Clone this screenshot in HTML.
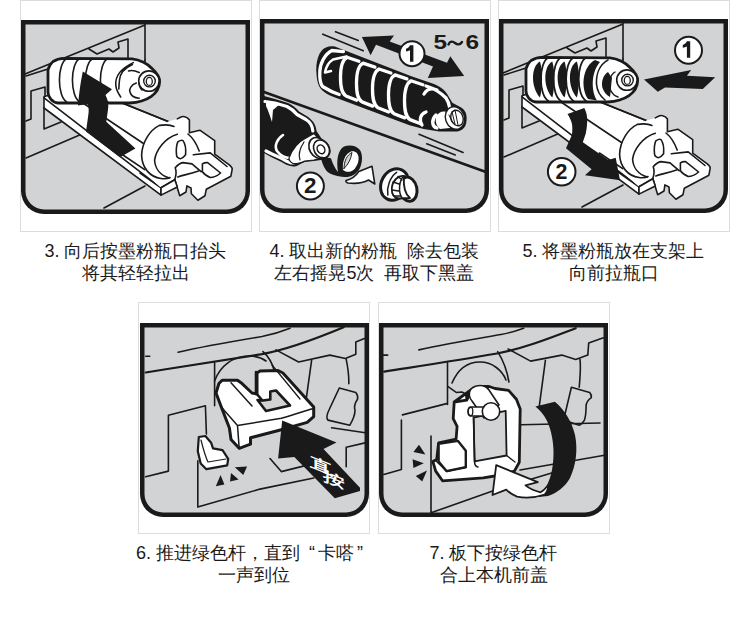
<!DOCTYPE html>
<html><head><meta charset="utf-8">
<style>
html,body{margin:0;padding:0;background:#fff;}
body{width:750px;height:617px;position:relative;overflow:hidden;font-family:"Liberation Sans",sans-serif;}
svg{position:absolute;left:0;top:0;}
.t{position:absolute;color:#1a1a1a;font-size:18px;line-height:22px;white-space:nowrap;text-align:center;width:231px;}
</style></head><body>
<svg width="750" height="617" viewBox="0 0 750 617">
<defs>
<path id="fo" d="M0,0 H229 V171 A23,23 0 0 1 206,194 H23 A23,23 0 0 1 0,171 Z"/>
<g id="base13">
<path d="M25,74 L145,25 M145,24 V60 M89,49 L97,54 L109,49 L113,52 L119,48 L118,42 L128,39 V58"/>
<path d="M26,76 L48,69 M26,121 L31,119 V91 L45,87 V97"/>
<path d="M44,107 V129 L61,122 M26,158 L82,134 M104,208 L145,186"/>
<path d="M145,60 V64"/>
<!-- tray+shaft white silhouette -->
<path fill="#fff" d="M44,96.7 L55,93 L105,99 L111.7,98.7 L176.8,125 L174.8,179.7 L161,187.8 L161,195.1 L44,108 Z"/>
<path d="M44,97.8 L161,187.8 M111.7,98.7 L176.8,125 M80,101 L145.7,145 M121.4,154 L144.7,169.7 M140,173.2 L161,187.8 L174.8,179.7"/>
<!-- holder -->
<path fill="#fff" stroke="none" d="M168,121.5 L177.3,118.9 L180.5,117.3 C182,116 187,116 189.4,120 L189.4,125 L189.4,132.8 L199.8,130.2 L214.7,140.6 L214.7,154.2 L229.6,165.2 C231.5,167 232.5,168 232.2,169.1 L230.9,176.2 L206.3,189.2 L205,195.7 L197.9,200.2 L191.4,193.7 L191,188 L186.9,185.9 L186,192 L179.7,195.7 L175.2,180.7 L174.8,179.7 L161,187.8 L150,178 Z"/>
<path d="M177.3,118.9 L180.5,117.3 C182,116 187,116 189.4,120 L189.4,125 L189.4,132.8 L199.8,130.2 L214.7,140.6 L214.7,154.2 L229.6,165.2 C231.5,167 232.5,168 232.2,169.1 L230.9,176.2 L206.3,189.2 L205,195.7 L197.9,200.2 L191.4,193.7 L191,188 L186.9,185.9 L186,192 L179.7,195.7 L175.2,180.7 L174.8,179.7 L161,187.8"/>
<path fill="#fff" stroke-width="1.6" d="M161,187.8 L174.8,179.7 L177.3,187 L161,195.1 Z"/>
<path fill="#fff" stroke="none" d="M159.4,125.4 C150,130 142,142 141.6,155.4 C142,168 150,177 161,178.5 C172,180 178,172 180,160 L185,140 C180,128 170,123 159.4,125.4 Z"/>
<path d="M174,126.5 C170,124.5 165,124.5 159.4,125.4 C150,130 142,142 141.6,155.4 C142,168 150,177 161,178.5 C165,179 168,178.5 170,177.5"/>
<path d="M177.3,134.3 C165,138 156,150 154.6,160.2 C155,168 160,175 169.2,178"/>
<path d="M177.8,141.9 C180,140.5 182,140 183,140.6 C185.5,144 186,150 185.6,154.8 C184,157 182,158.5 180.4,158.7 C177.5,158 176.5,156.5 176.5,154.8 C176,150 176.5,145 177.8,141.9 Z M188,134 C193,138 197,145 199.2,151 M193.3,154.8 L210.2,152.9 L227,166.5 M202.4,163.9 C204,162.8 206,162.5 207.6,162.6 L220.6,173 C217,176 213,177.5 210.2,177.5 C207,176 204,174 202.4,171.7 Z M175.2,167.8 C178,164.5 180.5,163 183,162.6 L192,163.9 L201.1,171.7 M177.8,176.9 C183,175 190,174 198.5,171 M174.8,179.7 C176,176 177,172 175.2,167.8"/>
<path fill="#fff" stroke-width="2.8" d="M48,70 C50,62 55,58.5 64,58.3 L132,58.8 C140,59.5 148,64 152,68.5 C157,73 160,78 159.6,82 C159.5,88 156,93 151,96.7 C147,99.5 140,102.5 129.5,103 L58,103 C52,102.5 48,97 48,92 Z"/>
</g>
<g id="cap13">
<circle cx="148.9" cy="81.1" r="10.2" fill="#fff" stroke-width="1.6"/>
<circle cx="149.5" cy="81.1" r="5.8" fill="#fff" stroke-width="1.4"/>
<ellipse cx="149.3" cy="81.4" rx="3" ry="4" stroke-width="1.3"/>
</g>
<path id="fi" d="M4.5,4.5 H224.5 V171 A18.5,18.5 0 0 1 206,189.5 H23 A18.5,18.5 0 0 1 4.5,171 Z"/>
</defs>
<g fill="none" stroke="#dcdcdc" stroke-width="1">
<rect x="20.5" y="0.5" width="231" height="231"/>
<rect x="259.5" y="0.5" width="231" height="231"/>
<rect x="498.5" y="0.5" width="231" height="231"/>
<rect x="138.5" y="302.5" width="231" height="231"/>
<rect x="378.5" y="302.5" width="231" height="231"/>
</g>
<!-- panel 1 -->
<g transform="translate(21,20)"><use href="#fo" fill="#1a1a1a"/><use href="#fi" fill="#d2d3d5"/></g>
<g transform="translate(260,19)"><use href="#fo" fill="#1a1a1a"/><use href="#fi" fill="#d2d3d5"/></g>
<g transform="translate(499,19)"><use href="#fo" fill="#1a1a1a"/><use href="#fi" fill="#d2d3d5"/></g>
<g transform="translate(140,323)"><use href="#fo" fill="#1a1a1a"/><use href="#fi" fill="#d2d3d5"/></g>
<g transform="translate(379,323)"><use href="#fo" fill="#1a1a1a"/><use href="#fi" fill="#d2d3d5"/></g>
<!-- P1 art -->
<g id="p1" fill="none" stroke="#1a1a1a" stroke-width="1.6" stroke-linejoin="round" stroke-linecap="round">
<use href="#base13"/>
<path d="M66.7,58.5 C57,64 57,96 66.7,102 M79.7,58.5 C70,64 70,96 79.7,102 M92.8,58.5 C83,64 83,96 92.8,102 M107.7,58.5 C98,64 98,96 107.7,102 M133.3,62.6 C122,68 115,76 115.8,85 C116,90 118,93 120.7,97 M132.4,64.6 C125,68 120,74 119.5,80 C119,84 119,87 118.8,89 M136.3,83 C131,85 129,89 130,92 C131,96 135,98 139.2,98.2 M128.5,70.9 C132,70 136,71 139.2,72.4"/>
<path d="M142,74 C138,78 138,86 142,90"/>
<use href="#cap13"/>
<!-- arrow -->
<path fill="#1a1a1a" stroke="none" d="M82.8,71.5 L112,89.3 L105.5,95 C108,100 109,105 107.9,110.3 L106.3,121.7 L135.4,148.4 L120,157.3 L86,131.4 L88.5,113.6 C89,110 88.5,106 87.7,103.9 L78,105.5 C79,95 80,85 82.8,71.5 Z"/>
</g>
<!-- P3 art -->
<g id="p3" fill="none" stroke="#1a1a1a" stroke-width="1.6" stroke-linejoin="round" stroke-linecap="round">
<g transform="translate(478,-1)">
<use href="#base13"/>
<path fill="#1a1a1a" stroke="none" d="M62.0,62.5 C53.0,67 52.5,88 62.0,98.5 C64.5,90 65.0,72 62.0,62.5 Z M74.3,62.5 C65.3,67 64.8,88 74.3,98.5 C76.8,90 77.3,72 74.3,62.5 Z M86.6,62.5 C77.6,67 77.1,88 86.6,98.5 C89.1,90 89.6,72 86.6,62.5 Z M98.9,62.5 C89.9,67 89.4,88 98.9,98.5 C101.4,90 101.9,72 98.9,62.5 Z "/>
<path fill="#1a1a1a" stroke="none" d="M117,61 C105,67 102,88 110,100 L119,101.5 C113,92 113,73 122,63 Z"/>
<path d="M70.4,58.5 C60.4,64 60.4,96 70.4,102 M83.0,58.5 C73.0,64 73.0,96 83.0,102 M95.6,58.5 C85.6,64 85.6,96 95.6,102 M108.2,58.5 C98.2,64 98.2,96 108.2,102 " stroke-width="1.8"/>
<path d="M130,61 C121,66 118,76 118.5,85 C119,92 122,97 127,101" stroke-width="1.6"/>
<path fill="#1a1a1a" stroke="none" d="M130,73 C125,76 123,83 124.5,89 C126,93 128,96 132,98 C133,92 133,85 134,79 Z"/>
<path d="M137,73 C132,76 130,84 132,90 C134,95 137,97 140,98" stroke-width="1.4"/>
<use href="#cap13"/>
</g>
<!-- arrow 1 -->
<path fill="#1a1a1a" stroke="none" d="M644,79.4 L691.2,70 L686.9,75.8 L715.2,77.2 L702.8,88.9 L665,87.4 L657.8,91.8 Z"/>
<circle cx="688.5" cy="50.25" r="13.5" fill="#fff" stroke-width="2"/>
<path fill="#1a1a1a" stroke="none" d="M686.9,41.3 H690.2 V57.7 H686.9 V46.4 C685.7,47.1 684.3,47.5 682.8,47.7 V44.9 C684.6,44.3 686.1,43 686.9,41.3 Z"/>
<!-- arrow 2 -->
<path fill="#1a1a1a" stroke="none" d="M567.5,113.9 L584.3,108 C586.5,112 587.5,117 587.2,121.9 C587,126 586.5,130 585.8,133.6 L582.8,142.3 L608.4,159.9 L615.7,157.7 L620,180.3 L585,175.2 L591.6,169.3 L566,148.2 L571.9,135 C572.5,131 572.5,127 571.9,123.4 C571,120 569.5,117 567.5,113.9 Z"/>
<circle cx="561.7" cy="171.8" r="13.8" fill="#fff" stroke-width="2"/>
<text x="561.4" y="178.8" font-family="Liberation Sans" font-weight="bold" font-size="21.4" fill="#1a1a1a" stroke="none" text-anchor="middle">2</text>
</g>
<!-- P2 art -->
<g id="p2" fill="none" stroke="#1a1a1a" stroke-width="1.6" stroke-linejoin="round" stroke-linecap="round">
<path d="M322.8,34.2 L363.3,50.7 M335.5,31.7 L358.3,40.5 M419,134.3 L463.1,152.5 M426.7,143.8 L455.3,155"/>
<path stroke-width="2.6" d="M264,92 L486,172"/>
<!-- double arrow -->
<path fill="#1a1a1a" stroke="none" d="M361.9,37.1 L394,35.4 L389.7,41.5 L447,62.7 L450.3,56.2 L464.2,76.1 L427.8,77.9 L433,66.5 L376,44.8 L370.6,55.3 Z"/>
<circle cx="412" cy="53.7" r="12.5" fill="#fff" stroke-width="2"/>
<!-- bottle 1 -->
<path fill="#1a1a1a" stroke="none" d="M316.6,75 C315,62 319,50 326,47.5 C329,46 332,45.8 334.8,46.6 L410.7,76 L428.9,82.3 C437,85 443,88 447,93.7 L452.3,102.8 L457.4,105.5 C463,108 466,111 466.5,116 C467,121 466,126 463.9,128 C461,131 457,132 453.6,131.5 L439.3,131.5 L423.7,129 L409.5,125.2 L339.2,99 C330,96 322,92 319,86 C317.5,82 316.8,79 316.6,75 Z"/>
<g stroke="#fff" stroke-width="3.3">
<path d="M343.5,51.7 L331.9,50.5 C325,54 320,63 319.8,72 C319.5,80 320.5,84 322.5,86.5 C328,90 333,92.5 339.2,94.5"/>
<path d="M346.5,56.5 L333,59.5 C329,62 326,67 325,72.5 L331,71" stroke-width="2.6"/>
<path d="M358.9,61.2 L347.0,57.2 C342.0,60.0 340.5,67.0 340.5,77.0 C340.5,87.0 341.5,93.0 346.0,96.0 L356.7,100.2"/>
<path d="M374.9,67.1 L363.0,63.1 C358.0,65.9 356.5,72.9 356.5,82.9 C356.5,92.9 357.5,98.9 362.0,101.9 L372.7,106.1"/>
<path d="M390.9,73.0 L379.0,69.0 C374.0,71.8 372.5,78.8 372.5,88.8 C372.5,98.8 373.5,104.8 378.0,107.8 L388.7,112.0"/>
<path d="M406.9,78.9 L395.0,74.9 C390.0,77.7 388.5,84.7 388.5,94.7 C388.5,104.7 389.5,110.7 394.0,113.7 L404.7,117.9"/>
<path d="M422.9,84.8 L411.0,80.8 C406.0,83.6 404.5,90.6 404.5,100.6 C404.5,110.6 405.5,116.6 410.0,119.6 L420.7,123.8"/>
<path d="M426,86 C433,88 440,92 446,98 C448,101 449,104 449.5,107 M424,94 C427,89 432,88 437,90"/>
<path d="M422,125 C419,120 420,114 426,112 M437,128 C432,127 431,120 436,115"/>
</g>
<path fill="#fff" stroke="none" d="M436,117 C438,112 444,110 448,113 L450,128 L440,129 C437,127 435,122 436,117 Z"/>
<ellipse cx="455" cy="118" rx="9.5" ry="11.5" transform="rotate(-20 455 118)" fill="#fff" stroke="#1a1a1a" stroke-width="1.4"/>
<ellipse cx="457" cy="118" rx="6" ry="8" transform="rotate(-20 457 118)" fill="#fff" stroke="#1a1a1a" stroke-width="1.4"/>
<path d="M452,112 L455,124 M455,110 L458,125 M449,115 L452,122" stroke-width="1"/>
<path fill="#1a1a1a" stroke="none" d="M410,45.3 H413.4 V61.8 H410 V50.3 C408.8,51 407.5,51.4 406,51.6 V48.8 C407.8,48.2 409.2,47 410,45.3 Z"/>
<text x="0" y="0" transform="translate(433.5,49.3) scale(1.25,1)" font-family="Liberation Sans" font-weight="bold" font-size="19.5" fill="#1a1a1a" stroke="none">5</text>
<path d="M448.5,44.5 C450,41 452.5,41 455,43 C457.5,45 460,45 462,42" stroke-width="2.4"/>
<text x="0" y="0" transform="translate(465.5,49.3) scale(1.25,1)" font-family="Liberation Sans" font-weight="bold" font-size="19.5" fill="#1a1a1a" stroke="none">6</text>
<!-- bottle 2 -->
<path fill="#1a1a1a" stroke="none" d="M264,96 L275,99 L288,103 C294,106 297,109 299,111.5 L307.4,116.6 C312,120 316,124 316.5,131 L321.7,138.7 C327,141 331,146 330.7,151.7 C330,156 327,159 324.3,159.4 L313.9,161 L304.8,162 C300,164 297,166.6 293.1,166.6 C288,166 284,163.5 281.5,162 L271.1,157 L264,153 Z"/>
<g stroke="#fff" stroke-width="3.2">
<path d="M265,101.5 L275,103 L287,106.5 C292,109 295,112 297,114.5 L306,119.5 C310,122 312.5,126 312.8,131 M266,151 L272,154 L282,158.5 C286,161 289,163 293,163 C297,163 300,160 304,159"/>
<path d="M283,135 C277,139 274,146 277,151 C280,155 285,158 290,158" stroke-width="2.6"/>
</g>
<path fill="#fff" stroke="none" d="M266,102 L280,104 L273,110 L272,122 C270,116 268,110 266,106 Z"/>
<path fill="#fff" stroke="#1a1a1a" stroke-width="1.2" d="M289,158 C292,150 298,142 306,138 L314,133.5 L320,140 L322,158 L313.9,160 L304.8,161 C300,163 296,164 293,163.5 C290,162 289,160 289,158 Z"/>
<path d="M304,142 C300,148 298,154 300,160" stroke-width="1.2"/>
<ellipse cx="318" cy="148" rx="8.5" ry="11" transform="rotate(-30 318 148)" fill="#fff" stroke="#1a1a1a" stroke-width="1.6"/>
<ellipse cx="321.5" cy="149" rx="7.5" ry="9.5" transform="rotate(-30 321.5 149)" fill="#fff" stroke="#1a1a1a" stroke-width="1.6"/>
<ellipse cx="321" cy="149.3" rx="3.6" ry="4.6" transform="rotate(-30 321 149.3)" fill="none" stroke="#1a1a1a" stroke-width="1.5"/>
<!-- ribbon -->
<path fill="#1a1a1a" stroke="none" d="M320.6,156.5 L330.9,158.3 C333,164 335,169 338,172 C336,160 338,150 344,146.5 C349,144.5 356,145 360,150 C363,155 362.5,163 359.5,169 C356,175 350,177.5 344,177 C341,176.8 339,176.5 337.4,176 C332,175 328,173 326.2,170.5 C323,166 321.5,161 320.6,156.5 Z"/>
<path fill="#fff" stroke="none" d="M343,170 C342,162 345,154 351,151.5 C355,150.5 358,153 358.5,157 C359,162 357,166 354,169.5 C351,172 347,173 343,170 Z"/>
<path fill="#d2d3d5" stroke="#1a1a1a" stroke-width="1" d="M344,168.5 C344,161 347,155 352,152.5 C351,159 348,165 344,168.5 Z"/>
<path fill="#fff" stroke-width="1.6" d="M346,180.5 C352,179 356,176 358.9,171.4 L372,166.3 L374.8,184 L368.5,180 C363,183 356,184 348,183 C346.5,182.5 345.5,181.5 346,180.5 Z"/>
<!-- cap loose -->
<ellipse cx="394.5" cy="184.5" rx="13.2" ry="16.3" transform="rotate(28 394.5 184.5)" fill="#fff" stroke-width="3"/>
<ellipse cx="408.3" cy="189.2" rx="8.6" ry="12.2" transform="rotate(-12 408.3 189.2)" fill="#fff" stroke-width="3"/>
<path fill="#fff" stroke-width="1.8" d="M404,176 C398,175 392.5,181 391.8,188 C391.5,194 394,198 399,198.5 L410,198 C405,194 403,188 404,176 Z"/>
<path d="M404,176 C399,180 398,192 402,198 M393,182 L399,184 M392,190 L398.5,191 M394,196 L400,196 M398,176.5 L402,180" stroke-width="1.5"/>
<path d="M396.6,172.3 C390,177 386.5,187 387.8,195" stroke-width="1.5"/>
<!-- circled 2 -->
<circle cx="310.4" cy="186" r="13.5" fill="#fff" stroke-width="2"/>
<text x="310.2" y="192.8" font-family="Liberation Sans" font-weight="bold" font-size="22.4" fill="#1a1a1a" stroke="none" text-anchor="middle">2</text>
</g>
<!-- P4 art -->
<g id="p4" fill="none" stroke="#1a1a1a" stroke-width="1.6" stroke-linejoin="round" stroke-linecap="round">
<path d="M178.1,352.2 C205,346 235,341 262,336.5 C275,334 283,331 290,328.2"/>
<path stroke-width="2.2" d="M145.7,372.5 C185,366 225,360 262,354.2 C290,349 318,338 343.6,327.3"/>
<path d="M145.7,356.2 H149.7"/>
<path d="M276,349.9 L298.6,362 L329.8,355.1 L345.4,358.5 L355.8,354.2 V342 L364.4,338.6"/>
<path d="M311.6,360.3 L306.4,397.6 M346.2,359.4 C348,368 349,376 348.8,383.7 M214.6,362.7 V405.7"/>
<path d="M339.3,388 L355.8,392.4 C358,395 358,397 357.5,399.3 C355,403 354,407 355,410 C355,414 353,420 349.7,425.3 L328,420.1 C326,418 327,414 329,410 Z"/>
<path d="M263,351.6 C268,356 272,362 274.3,370.7 M214.6,381 C220,366 233,356 249,356 C256,356 262,358 266,361"/>
<path d="M145.7,476.8 L168.4,471.1 V415.2 L205.4,405.7 L206.4,434 M197.8,460.7 V507.1 L260,489.1 L313.8,478 M270,458.6 L281.3,471.6 L307.3,465.1 M346.2,447.3 L367.2,442.4 M346.2,447.3 V466.7 M331.6,427.8 L367,433"/>
<!-- small piece -->
<path fill="#fff" stroke-width="2.2" d="M198.8,437 L205.4,436 L211.1,442.7 L213,448.3 L222.5,450.2 L228.2,458.8 L227.2,465.4 L206.4,469.2 L200.7,463.5 L197.8,451.2 Z"/>
<path d="M201,440 C203,448 205,456 208,462 L226,459" stroke-width="1.2"/>
<!-- click marks -->
<path fill="#1a1a1a" stroke="none" d="M215.8,486.3 L220.6,474.9 L224.4,484.4 Z M230,481.5 L231,473 L238.6,479.6 Z M234.8,467.3 L247.1,466.4 L243.3,474.9 Z"/>
<!-- lever -->
<path fill="#fff" stroke-width="3" d="M218.9,383.5 L222.2,380.2 L237.5,380.2 L241,382.7 L252,393 L257,394 L257,373 L260,371 L278,370.5 L282.9,373 L313.7,407 L313.7,416.7 L307.2,422.4 L281.3,429.7 L250.5,437.8 L250.5,444.2 L239.2,448.3 L231,439.4 L229.4,428 L221.3,407 L216,393 Z"/>
<path fill="#d2d3d5" stroke-width="2.6" d="M257.5,400 L263,400.5 L270.3,399.5 L270.3,391.5 L276,390.5 L290,405.5 L266,411 Z"/>
<path d="M256,372 V393 L262,400" stroke-width="2.6"/>
<path d="M272,365 L300,399" stroke-width="1.3"/>
<path d="M231,382.7 L252,406 M221.3,407 L237.5,425.6 L281.3,418.3 C293,415 304,411 313.7,408.6 M237.5,425.6 L239.2,448.3" stroke-width="1.5"/>
<!-- big arrow -->
<path fill="#1a1a1a" stroke="none" d="M282.2,420.5 L336.5,442.4 L323.5,448.9 L360,487.8 L360,491 L334.8,498.3 L294.3,457 L278.1,458.6 Z"/>
<text transform="translate(309.5,466) skewY(22) scale(1.55,1)" font-family="Liberation Sans" font-size="14" font-weight="bold" fill="#fff" stroke="none">直</text>
<text transform="translate(323,480) skewY(22) scale(1.55,1)" font-family="Liberation Sans" font-size="14" font-weight="bold" fill="#fff" stroke="none">按</text>
</g>
<!-- P5 art -->
<g id="p5" fill="none" stroke="#1a1a1a" stroke-width="1.6" stroke-linejoin="round" stroke-linecap="round">
<path d="M418.9,349.9 C445,344 475,339 501,334.5 C512,332.5 518,330 523.7,328.2"/>
<path stroke-width="2.2" d="M384.2,371.6 C420,366 460,360 497,353.5 C525,348 550,338 575.7,328.2"/>
<path d="M383.3,355.1 H387.7"/>
<path d="M508.1,349 L530.6,361.1 L561.8,355.1 L575.7,359.4 L587.8,355.1 L588.7,343 L603.4,337.7"/>
<path d="M545.4,360.3 L539.3,406.2 M580,359.4 C581,368 580,378 579.2,387.2 M447.5,362.9 V404.5"/>
<path d="M571.4,387.2 L589.6,392.4 C591,394 591.5,396 591.3,397.6 C588,400 586,403 586.1,406.2 C586,411 586,416 584.4,420.1 C583,423 581,424.5 579.2,425.3 L563.6,420.1 Z"/>
<path d="M497.7,351.6 C503,360 507,370 508.9,382 M452,383 C458,369 468,362 480,362 C492,362 502,370 506,380"/>
<path d="M383.8,474.4 L401.4,469.6 V420 M402.4,414.9 L446.6,403.6 M431,436 V512.8 L499,488.8 L555,472 M510,425 L600,423 M520,470 L606,455"/>
<!-- click marks -->
<path fill="#1a1a1a" stroke="none" d="M413.4,452 L419,444.8 L425.4,454.4 Z M412.6,459.2 L423.8,463.2 L413.4,468 Z M415.8,476 L427,470.4 L422.2,481.6 Z"/>
<!-- lever -->
<path fill="#fff" stroke-width="2.8" d="M454.2,402 L466.8,400.1 L466.5,394.5 L471.6,389.4 L466.8,400.1 L454.2,402 L453.2,418.6 L457.1,426.4 L456.1,439 L438.6,442.9 L436.7,459.4 L432.8,461.4 L435.7,471.1 L442.5,480.8 L483.3,477.9 L500.8,475 L514.4,471.1 L519.3,462.3 L520.2,408.9 L516.4,399.2 L508.6,390.4 L495,388.5 L489.1,386.5 L481.4,386.5 L471.6,389.4 Z"/>
<path d="M447.7,386.4 L456.2,392.4 L461.9,392 L466.5,394.5" stroke-width="1.5"/>
<path fill="#d2d3d5" stroke-width="1.8" d="M473.6,417.6 L505.7,410.8 L506.6,455.5 L474.6,461.4 Z"/>
<path d="M473.6,417.6 L474.6,461.4 C474.5,465 476,467 478,467" stroke-width="1.6"/>
<path fill="#fff" stroke-width="2.4" d="M438.6,443.9 L458,440.9 L465.8,450.7 L465.8,467.2 L446.4,471.1 L438.6,461.4 Z"/>
<path d="M436,461 L447,471.5 L466,467" stroke-width="1.3"/>
<path d="M506.6,455.5 L515,462" stroke-width="1.3"/>
<!-- pin -->
<path fill="#fff" stroke-width="1.6" d="M469.5,392 C471,386.5 479,384 485,386.5 C487,387.5 488,388.5 489,390 L499,405 L484,418 L472,401 C469.5,398 469,395 469.5,392 Z"/>
<path fill="#fff" stroke-width="1.5" d="M468,411.5 C468,408 470,407 472,407 L488,407 L488,416 L472,416 C470,416 468,415 468,411.5 Z"/>
<circle cx="491" cy="411.5" r="8.7" fill="#fff" stroke-width="1.6"/>
<ellipse cx="470.5" cy="411.5" rx="2.3" ry="4.3" stroke-width="1.3"/>
<!-- crescent arrow -->
<path fill="#1a1a1a" stroke="none" d="M535.4,406.5 L554.9,401.7 C565,410 572,422 575,435 C578,450 576,465 570,478 C565,487 557,493 548,496 L538.3,497 C546,490 550,480 552,470 C554,458 554,448 552,437 C550,425 545,414 535.4,406.5 Z"/>
<path fill="#fff" stroke-width="1.8" d="M496.2,465.1 L537.8,482.2 L525.5,485.4 C530,489 535,491 540.5,492.3 C543,491 546,488 549,484 C548,490 546.5,493 544.7,494.5 C536,497.5 526,498.5 517,496.6 C513,495 509,492.5 506.3,489.7 L492.5,495 Z"/>
</g>
</svg>
<div class="t" style="left:20px;top:240px;">3. 向后按墨粉瓶口抬头</div>
<div class="t" style="left:20px;top:262px;">将其轻轻拉出</div>
<div class="t" style="left:259px;top:240px;">4. 取出新的粉瓶&nbsp; 除去包装</div>
<div class="t" style="left:259px;top:262px;">左右摇晃5次&nbsp; 再取下黑盖</div>
<div class="t" style="left:498px;top:240px;">5. 将墨粉瓶放在支架上</div>
<div class="t" style="left:498px;top:262px;">向前拉瓶口</div>
<div class="t" style="left:134px;top:542px;">6. 推进绿色杆，直到<span style="margin-left:9px;margin-right:3px">“</span>卡嗒<span style="margin-left:3px">”</span></div>
<div class="t" style="left:138px;top:564px;">一声到位</div>
<div class="t" style="left:378px;top:542px;">7. 板下按绿色杆</div>
<div class="t" style="left:378px;top:564px;">合上本机前盖</div>
</body></html>
